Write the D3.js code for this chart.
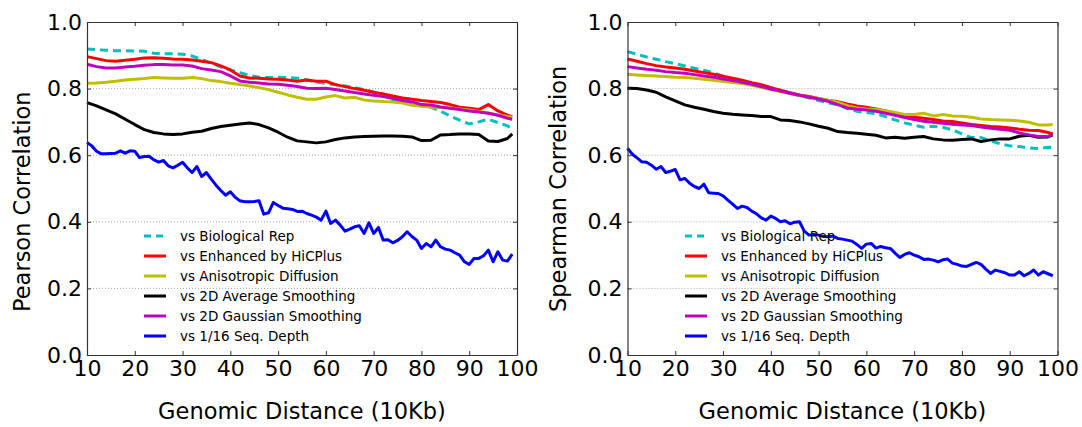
<!DOCTYPE html>
<html>
<head>
<meta charset="utf-8">
<script src="https://cdn.jsdelivr.net/npm/d3@7"></script>
<style>
    body { margin: 0; background: #fff; }
    svg text { font-family: "DejaVu Sans", sans-serif; fill: #000; }
</style>
</head>
<body>
<div id="chart"></div>
<script>
// Genomic distance (10Kb) for the smooth series, and per-bin for the noisy 1/16 depth series
const distCoarse = [10, 12, 14, 16, 18, 20, 22, 24, 26, 28, 30, 32, 34, 36, 38, 40, 42, 44, 46, 48,
    50, 52, 54, 56, 58, 60, 62, 64, 66, 68, 70, 72, 74, 76, 78, 80, 82, 84, 86, 88, 90, 92, 94, 96, 98, 99];
const distFine = d3.range(10, 100);

const seriesNames = ["vs Biological Rep", "vs Enhanced by HiCPlus", "vs Anisotropic Diffusion",
    "vs 2D Average Smoothing", "vs 2D Gaussian Smoothing", "vs 1/16 Seq. Depth"];
const seriesColors = ["#00bfbf", "#ff0000", "#bfbf00", "#000000", "#bf00bf", "#0000ff"];

// Pearson panel
const pearsonBio = [0.919, 0.917, 0.915, 0.914, 0.914, 0.913, 0.912, 0.906, 0.905, 0.905, 0.903, 0.898, 0.888, 0.876, 0.865,
    0.856, 0.848, 0.840, 0.834, 0.833, 0.834, 0.833, 0.831, 0.826, 0.820, 0.815, 0.812, 0.808, 0.803, 0.797, 0.790, 0.784,
    0.762, 0.764, 0.757, 0.752, 0.744, 0.732, 0.718, 0.705, 0.694, 0.700, 0.708, 0.698, 0.688, 0.680];
const pearsonHiCPlus = [0.896, 0.890, 0.884, 0.882, 0.885, 0.888, 0.892, 0.893, 0.891, 0.889, 0.888, 0.886, 0.882, 0.878, 0.868,
    0.856, 0.838, 0.832, 0.831, 0.829, 0.828, 0.826, 0.822, 0.826, 0.822, 0.822, 0.812, 0.806, 0.800, 0.795, 0.789, 0.784,
    0.778, 0.772, 0.768, 0.764, 0.761, 0.758, 0.752, 0.744, 0.741, 0.737, 0.752, 0.733, 0.720, 0.716];
const pearsonAniso = [0.816, 0.817, 0.819, 0.822, 0.826, 0.828, 0.830, 0.833, 0.832, 0.831, 0.831, 0.833, 0.830, 0.824, 0.821,
    0.816, 0.812, 0.808, 0.803, 0.797, 0.789, 0.781, 0.774, 0.768, 0.768, 0.775, 0.779, 0.772, 0.774, 0.766, 0.763, 0.761,
    0.760, 0.757, 0.750, 0.747, 0.745, 0.743, 0.742, 0.739, 0.736, 0.731, 0.727, 0.721, 0.716, 0.714];
const pearsonAvg = [0.758, 0.748, 0.736, 0.724, 0.708, 0.692, 0.677, 0.668, 0.664, 0.662, 0.664, 0.669, 0.672, 0.680, 0.686,
    0.690, 0.694, 0.697, 0.692, 0.682, 0.669, 0.654, 0.643, 0.640, 0.637, 0.640, 0.647, 0.652, 0.655, 0.656, 0.657, 0.658,
    0.658, 0.657, 0.655, 0.644, 0.645, 0.661, 0.662, 0.664, 0.664, 0.662, 0.643, 0.641, 0.650, 0.664];
const pearsonGauss = [0.873, 0.866, 0.862, 0.862, 0.865, 0.867, 0.870, 0.872, 0.872, 0.871, 0.871, 0.868, 0.860, 0.856, 0.851,
    0.838, 0.823, 0.819, 0.817, 0.814, 0.813, 0.810, 0.806, 0.801, 0.800, 0.801, 0.797, 0.793, 0.788, 0.784, 0.780, 0.776,
    0.770, 0.764, 0.760, 0.752, 0.751, 0.745, 0.741, 0.737, 0.733, 0.730, 0.726, 0.720, 0.711, 0.708];
const pearsonLow = [0.638, 0.628, 0.612, 0.604, 0.604, 0.605, 0.606, 0.613, 0.606, 0.613, 0.612, 0.593, 0.596, 0.597, 0.586,
    0.579, 0.584, 0.568, 0.562, 0.570, 0.579, 0.562, 0.548, 0.566, 0.536, 0.548, 0.528, 0.510, 0.494, 0.480, 0.490, 0.474,
    0.463, 0.460, 0.460, 0.461, 0.463, 0.423, 0.427, 0.458, 0.449, 0.441, 0.439, 0.437, 0.431, 0.432, 0.425, 0.420, 0.414,
    0.405, 0.432, 0.395, 0.405, 0.390, 0.372, 0.378, 0.385, 0.388, 0.365, 0.397, 0.365, 0.383, 0.345, 0.346, 0.337, 0.344,
    0.355, 0.370, 0.356, 0.345, 0.320, 0.335, 0.325, 0.345, 0.325, 0.318, 0.315, 0.307, 0.300, 0.280, 0.272, 0.290, 0.290,
    0.298, 0.315, 0.280, 0.310, 0.285, 0.282, 0.303];

// Spearman panel
const spearmanBio = [0.911, 0.903, 0.895, 0.888, 0.881, 0.875, 0.868, 0.861, 0.855, 0.847, 0.837, 0.829, 0.822, 0.815, 0.810,
    0.803, 0.795, 0.786, 0.779, 0.772, 0.764, 0.757, 0.752, 0.740, 0.732, 0.728, 0.725, 0.716, 0.706, 0.697, 0.690, 0.684,
    0.687, 0.684, 0.676, 0.664, 0.653, 0.653, 0.643, 0.634, 0.628, 0.626, 0.622, 0.620, 0.624, 0.623];
const spearmanHiCPlus = [0.889, 0.882, 0.875, 0.869, 0.865, 0.862, 0.858, 0.853, 0.848, 0.843, 0.837, 0.831, 0.825, 0.818, 0.812,
    0.803, 0.795, 0.788, 0.781, 0.776, 0.770, 0.764, 0.761, 0.754, 0.748, 0.744, 0.739, 0.733, 0.727, 0.720, 0.714, 0.711,
    0.707, 0.703, 0.701, 0.697, 0.692, 0.689, 0.686, 0.685, 0.682, 0.678, 0.675, 0.674, 0.668, 0.664];
const spearmanAniso = [0.843, 0.841, 0.839, 0.838, 0.836, 0.834, 0.833, 0.831, 0.828, 0.825, 0.821, 0.818, 0.815, 0.810, 0.804,
    0.797, 0.791, 0.785, 0.779, 0.774, 0.770, 0.765, 0.759, 0.749, 0.742, 0.739, 0.737, 0.733, 0.728, 0.722, 0.722, 0.726,
    0.718, 0.722, 0.718, 0.717, 0.714, 0.709, 0.707, 0.706, 0.705, 0.703, 0.699, 0.691, 0.691, 0.692];
const spearmanAvg = [0.801, 0.800, 0.796, 0.789, 0.775, 0.763, 0.751, 0.744, 0.738, 0.731, 0.726, 0.723, 0.721, 0.719, 0.716,
    0.716, 0.706, 0.704, 0.700, 0.694, 0.687, 0.681, 0.671, 0.668, 0.666, 0.663, 0.660, 0.652, 0.654, 0.651, 0.654, 0.656,
    0.649, 0.646, 0.645, 0.647, 0.649, 0.641, 0.646, 0.649, 0.649, 0.657, 0.660, 0.654, 0.655, 0.661];
const spearmanGauss = [0.866, 0.862, 0.858, 0.855, 0.851, 0.848, 0.846, 0.842, 0.838, 0.834, 0.829, 0.824, 0.819, 0.813, 0.806,
    0.799, 0.793, 0.786, 0.780, 0.774, 0.769, 0.762, 0.752, 0.742, 0.738, 0.736, 0.732, 0.726, 0.720, 0.713, 0.707, 0.702,
    0.699, 0.696, 0.693, 0.691, 0.689, 0.685, 0.681, 0.678, 0.675, 0.667, 0.661, 0.656, 0.657, 0.661];
const spearmanLow = [0.621, 0.603, 0.592, 0.580, 0.579, 0.570, 0.558, 0.566, 0.548, 0.552, 0.557, 0.526, 0.530, 0.516, 0.506,
    0.500, 0.513, 0.487, 0.486, 0.485, 0.478, 0.465, 0.453, 0.440, 0.447, 0.443, 0.432, 0.424, 0.412, 0.405, 0.417, 0.410,
    0.400, 0.403, 0.394, 0.399, 0.400, 0.372, 0.360, 0.362, 0.360, 0.356, 0.355, 0.357, 0.350, 0.348, 0.345, 0.342, 0.332,
    0.320, 0.333, 0.335, 0.321, 0.326, 0.322, 0.320, 0.306, 0.293, 0.302, 0.307, 0.300, 0.295, 0.287, 0.288, 0.285, 0.280,
    0.286, 0.288, 0.276, 0.272, 0.267, 0.266, 0.272, 0.278, 0.272, 0.258, 0.245, 0.255, 0.251, 0.247, 0.240, 0.240, 0.250,
    0.238, 0.245, 0.255, 0.240, 0.250, 0.244, 0.238];

const xTicks = [10, 20, 30, 40, 50, 60, 70, 80, 90, 100];
const yTicks = [0.0, 0.2, 0.4, 0.6, 0.8, 1.0];
const yGrid = [0.2, 0.4, 0.6, 0.8];

const panels = [
    { left: 87, yLabel: "Pearson Correlation", yLabelX: 22, legendX: 144,
      series: [pearsonBio, pearsonHiCPlus, pearsonAniso, pearsonAvg, pearsonGauss, pearsonLow] },
    { left: 627.5, yLabel: "Spearman Correlation", yLabelX: 558, legendX: 685,
      series: [spearmanBio, spearmanHiCPlus, spearmanAniso, spearmanAvg, spearmanGauss, spearmanLow] }
];

const W = 1082, H = 427;
const plotW = 430, plotTop = 22, plotBottom = 355;

const svg = d3.select("#chart").append("svg")
    .attr("width", W)
    .attr("height", H);

panels.forEach(p => {
    const g = svg.append("g").attr("transform", `translate(${p.left},0)`);

    const x = d3.scaleLinear().domain([10, 100]).range([0, plotW]);
    const y = d3.scaleLinear().domain([0, 1]).range([plotBottom, plotTop]);

    // dotted horizontal grid
    g.selectAll(".grid")
        .data(yGrid)
        .enter()
        .append("line")
        .attr("x1", 0).attr("x2", plotW)
        .attr("y1", d => y(d)).attr("y2", d => y(d))
        .attr("stroke", "#a8a8a8")
        .attr("stroke-width", 1)
        .attr("stroke-dasharray", "1,2");

    // lines
    const line = d3.line()
        .x(d => x(d[0]))
        .y(d => y(d[1]));

    p.series.forEach((vals, i) => {
        const xs = vals.length === distFine.length ? distFine : distCoarse;
        g.append("path")
            .datum(xs.map((d, k) => [d, vals[k]]))
            .attr("fill", "none")
            .attr("stroke", seriesColors[i])
            .attr("stroke-width", 3)
            .attr("stroke-linejoin", "round")
            .attr("stroke-dasharray", i === 0 ? "8,5" : null)
            .attr("d", line);
    });

    // axes, ticks pointing inward
    const xb = g.append("g")
        .attr("transform", `translate(0,${plotBottom})`)
        .call(d3.axisBottom(x).tickValues(xTicks).tickFormat(d3.format("d")).tickSize(-4).tickSizeOuter(0).tickPadding(5));
    g.append("g")
        .attr("transform", `translate(0,${plotTop})`)
        .call(d3.axisTop(x).tickValues(xTicks).tickFormat("").tickSize(-4).tickSizeOuter(0));
    const yl = g.append("g")
        .call(d3.axisLeft(y).tickValues(yTicks).tickFormat(d3.format(".1f")).tickSize(-4).tickSizeOuter(0).tickPadding(5));
    g.append("g")
        .attr("transform", `translate(${plotW},0)`)
        .call(d3.axisRight(y).tickValues(yTicks).tickFormat("").tickSize(-4).tickSizeOuter(0));

    g.selectAll(".domain").attr("stroke", "#333").attr("stroke-width", 1.2);
    g.selectAll(".tick line").attr("stroke", "#333");
    xb.selectAll("text").style("font-size", "22px").attr("font-family", "DejaVu Sans").attr("fill", "#111");
    yl.selectAll("text").style("font-size", "22px").attr("font-family", "DejaVu Sans").attr("fill", "#111");

    // axis titles
    svg.append("text")
        .attr("transform", `translate(${p.yLabelX},312) rotate(-90)`)
        .attr("text-anchor", "start")
        .attr("dominant-baseline", "central")
        .style("font-size", "22.5px")
        .text(p.yLabel);
    svg.append("text")
        .attr("x", p.left + plotW / 2)
        .attr("y", 411)
        .attr("text-anchor", "middle")
        .attr("dominant-baseline", "central")
        .style("font-size", "22.5px")
        .text("Genomic Distance (10Kb)");

    // legend (no frame)
    const leg = svg.append("g").attr("transform", `translate(${p.legendX},236)`);
    seriesNames.forEach((name, i) => {
        const row = leg.append("g").attr("transform", `translate(0,${i * 20})`);
        row.append("line")
            .attr("x1", 0).attr("x2", 22)
            .attr("stroke", seriesColors[i])
            .attr("stroke-width", 3)
            .attr("stroke-dasharray", i === 0 ? "7,5" : null);
        row.append("text")
            .attr("x", 36)
            .attr("dominant-baseline", "central")
            .style("font-size", "13.5px")
            .attr("fill", "#222")
            .text(name);
    });
});
</script>
</body>
</html>
